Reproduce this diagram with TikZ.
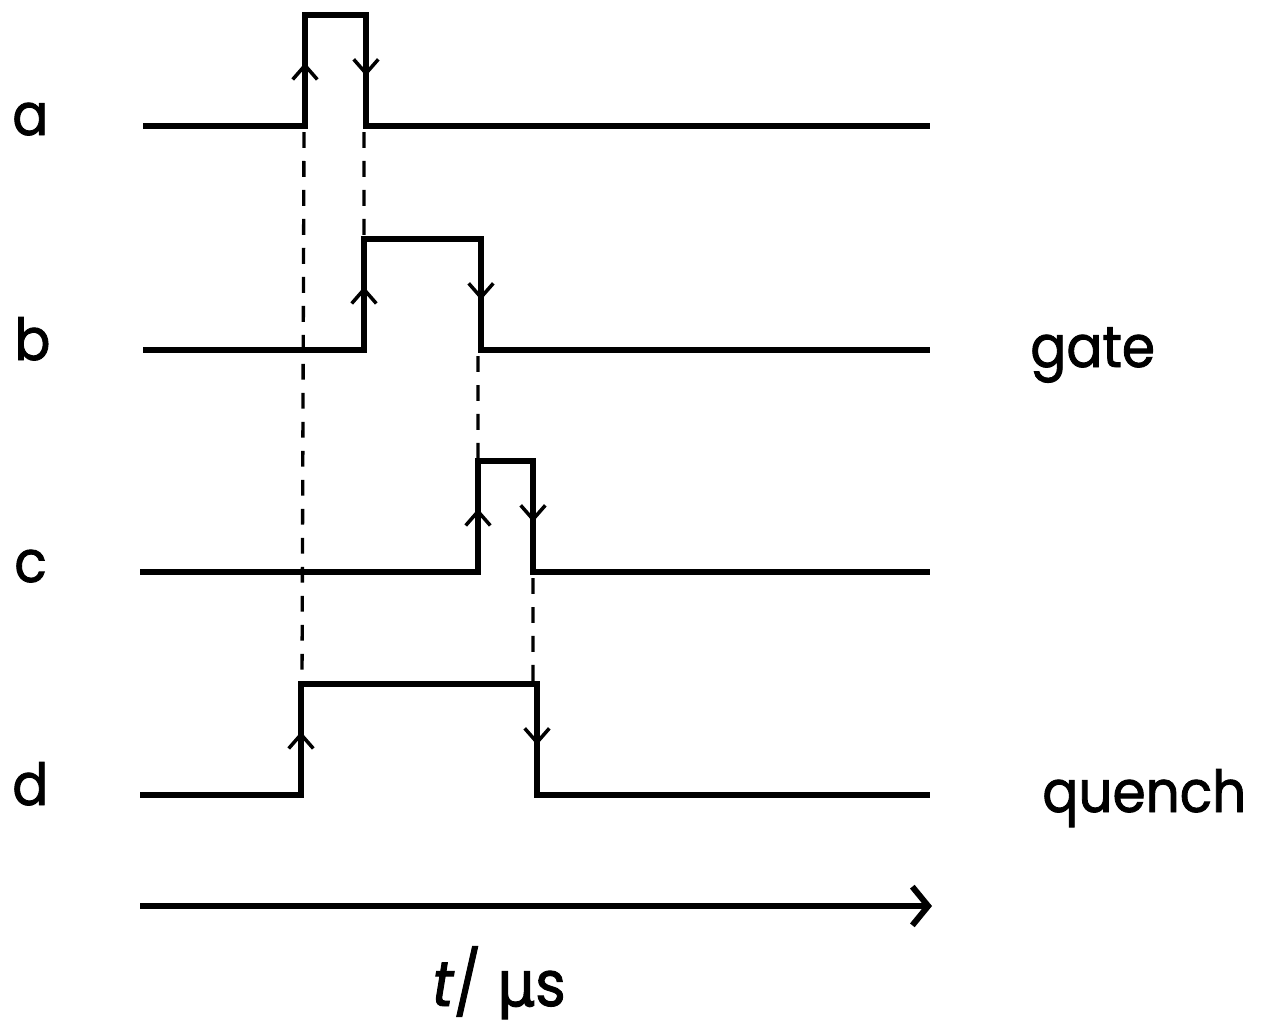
\documentclass[tikz,border=0pt]{standalone}
\usepackage{fontspec}
\setmainfont[FakeStretch=0.92,FakeBold=1.5]{Poppins}
\newfontfamily\dvs[FakeStretch=0.95,FakeBold=1.5]{DejaVu Sans}
\usetikzlibrary{arrows.meta,calc}
\begin{document}
\begin{tikzpicture}[x=0.02cm,y=-0.02cm,
  sig/.style={line width=3.4pt,line join=miter,line cap=butt},
  guide/.style={line width=1.9pt,dash pattern=on 9pt off 7.5pt},
  edgearrow/.style={line width=2pt,-{Straight Barb[length=8pt,width=14pt,line width=2pt]}},
  lbl/.style={font=\fontsize{33}{40}\selectfont,inner sep=0pt,anchor=base west},
  axis/.style={line width=3.4pt,-{Straight Barb[length=9pt,width=22pt,line width=3.4pt]}}]
\useasboundingbox (0,0) rectangle (1270,1032);
% row a
\coordinate (a0) at (143,126); \coordinate (a1) at (305,126); \coordinate (a1t) at (305,15);
\coordinate (a2t) at (366,15); \coordinate (a2) at (366,126); \coordinate (a3) at (930,126);
% row b
\coordinate (b0) at (143,350); \coordinate (b1) at (364,350); \coordinate (b1t) at (364,239);
\coordinate (b2t) at (481,239); \coordinate (b2) at (481,350); \coordinate (b3) at (930,350);
% row c
\coordinate (c0) at (140,572); \coordinate (c1) at (478,572); \coordinate (c1t) at (478,461);
\coordinate (c2t) at (533,461); \coordinate (c2) at (533,572); \coordinate (c3) at (930,572);
% row d
\coordinate (d0) at (140,795); \coordinate (d1) at (301,795); \coordinate (d1t) at (301,684);
\coordinate (d2t) at (537,684); \coordinate (d2) at (537,795); \coordinate (d3) at (930,795);
\foreach \r in {a,b,c,d}{
  \draw[sig] (\r0) -- (\r1) -- (\r1t) -- (\r2t) -- (\r2) -- (\r3);
  \draw[edgearrow] (\r1) -- ($(\r1)!0.57!(\r1t)$);
  \draw[edgearrow] (\r2t) -- ($(\r2t)!0.55!(\r2)$);
}
% dashed guides
\draw[guide] ([yshift=-0.12cm,xshift=-0.02cm]a1) -- ([xshift=0.02cm,yshift=0.05cm]d1t);
\draw[guide] ([yshift=-0.12cm,xshift=-0.04cm]a2) -- ([yshift=0.05cm]b1t);
\draw[guide] ([yshift=-0.12cm,xshift=-0.06cm]b2) -- ([yshift=0.05cm]c1t);
\draw[guide] ([yshift=-0.12cm]c2) -- ([yshift=0.05cm,xshift=-0.08cm]d2t);
% time axis
\coordinate (t0) at (140,906); \coordinate (t1) at (932,906);
\draw[axis] (t0) -- (t1);
% labels
\node[lbl] (la) at (12,135) {a};
\node[lbl] (lb) at (14,360) {b};
\node[lbl] (lc) at (14,582) {c};
\node[lbl] (ld) at (12,805) {d};
\node[lbl] (lgate) at (1030,367) {gate};
\node[lbl] (lquench) at (1042,812) {quench};
\node[lbl,font=\fontsize{36}{44}\selectfont] (lt) at (432,1006) {{\itshape t}/\hspace{0.25em}{\dvs μ}s};
\end{tikzpicture}
\end{document}
